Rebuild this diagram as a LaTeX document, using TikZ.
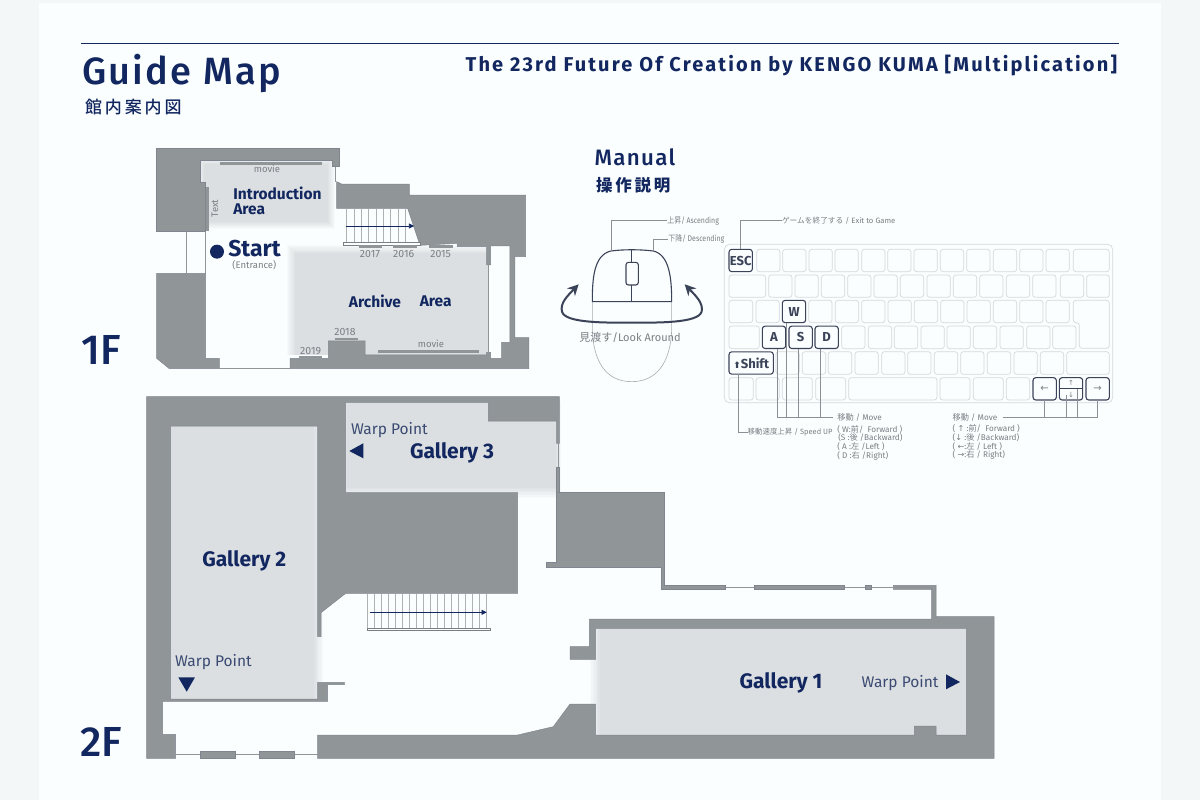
\documentclass[tikz,border=0pt]{standalone}
\usepackage{fontspec}
\usepackage{graphicx}
\usetikzlibrary{arrows.meta}
\setmainfont{Fira Sans}
\newfontfamily\cjk{Noto Sans CJK JP}
\newfontfamily\syms{DejaVu Sans}
\newfontfamily\mediumf{Fira Sans Medium}
\newfontfamily\spaced[LetterSpace=6]{Fira Sans Medium}
\newfontfamily\spacedtitle[LetterSpace=10.8]{Fira Sans}
\newfontfamily\spacedcjk[LetterSpace=17]{Noto Sans CJK JP Medium}
\definecolor{pagebg}{HTML}{F4F7F8}
\definecolor{panelc}{HTML}{FBFEFF}
\definecolor{wallc}{HTML}{909597}
\definecolor{walle}{HTML}{7F868F}
\definecolor{roomc}{HTML}{DCDFE1}
\definecolor{navyc}{HTML}{12275F}
\definecolor{slatec}{HTML}{3A4A72}
\definecolor{greyt}{HTML}{7A7F84}
\definecolor{keyg}{HTML}{D6D9DB}
\definecolor{keyd}{HTML}{3B4358}
\definecolor{connc}{HTML}{8B9096}
\newcommand\fs[1]{\fontsize{#1}{#1}\selectfont}
\newcommand\softroom[5]{\foreach \i in {1,...,8}{\pgfmathsetmacro\softp{\i*12.5}\fill[roomc!\softp!panelc] ({#1+#5*(\i-1)/8},{#2+#5*(\i-1)/8}) rectangle ({#3-#5*(\i-1)/8},{#4-#5*(\i-1)/8});}}
\tikzset{
 wall/.style={fill=wallc,draw=walle,line width=.5pt,line join=miter},
 thin wall/.style={draw=wallc,line width=1pt},
 txt/.style={inner sep=0pt,outer sep=0pt},
 roomname/.style={txt,font=\bfseries\fs{15.5},text=navyc},
 galname/.style={txt,font=\bfseries\fs{21},text=navyc},
 warp/.style={txt,font=\fs{15.5},text=slatec},
 yearlbl/.style={txt,font=\fs{10.5},text=greyt},
 movielbl/.style={txt,font=\fs{9.5},text=greyt},
 floorlbl/.style={txt,font=\mediumf\fs{42},text=navyc},
 tri/.style={fill=navyc,draw=none},
 stair/.style={draw=greyt!60,line width=.4pt},
 stairbar/.style={draw=greyt,fill=panelc,line width=.45pt},
 stairarrow/.style={draw=navyc,line width=.6pt,-{Triangle[length=5pt,width=5pt]}},
 greykey/.style={draw=keyg,line width=.7pt,rounded corners=2.7pt},
 darkkey/.style={draw=keyd,line width=1.1pt,rounded corners=2.7pt,inner sep=0pt,outer sep=0pt,text=keyd,font=\bfseries\fs{13},fill=panelc},
 conn/.style={draw=connc,line width=.55pt},
 smalltxt/.style={txt,font=\fs{8.2},text=greyt,anchor=west},
}
\begin{document}
\begin{tikzpicture}[x=1pt,y=-1pt]
\useasboundingbox (0,0) rectangle (1200,800);
\fill[pagebg] (0,0) rectangle (1200,800);
\fill[panelc] (39,3) rectangle (1161,800);
% header
\coordinate (ruleL) at (81,43.5);
\coordinate (ruleR) at (1119,43.5);
\draw[navyc,line width=1.2pt] (ruleL) -- (ruleR);
\node[txt,anchor=west,text=navyc] (guide) at (82,73) {\spaced\fs{38}Guide Map};
\node[txt,anchor=west,text=navyc] (guidejp) at (85,107.5) {\spacedcjk\fs{17}館内案内図};
\node[txt,anchor=east,text=navyc] (maintitle) at (1117,65.5) {\spacedtitle\bfseries\fs{20}The 23rd Future Of Creation by KENGO KUMA [Multiplication]};
\node[txt,anchor=west,text=navyc] (manual) at (594.5,157.5) {\spaced\fs{22.3}Manual};
\node[txt,anchor=west,text=navyc] (manualjp) at (596,185) {\spacedcjk\bfseries\fs{16.5}操作説明};
\node[floorlbl] (f1) at (101,350) {1F};
\node[floorlbl] (f2) at (101,742) {2F};

% ===== 1F plan, in crop units
\begin{scope}[shift={(140,140)},x=.33333pt,y=-.33333pt]
\begin{scope}
\clip (180,60) rectangle (600,280);
\softroom{172}{52}{585}{268}{24}
\end{scope}
\begin{scope}
\clip (430,305) rectangle (1044,645);
\softroom{440}{315}{1070}{670}{28}
\end{scope}
\fill[wall] (50,25)--(597,25)--(597,80)--(578,80)--(578,60)--(180,60)--(180,127)--(197,127)--(197,275)--(50,275)--cycle;
\fill[wall] (50,400)--(197,400)--(197,655)--(238,655)--(238,686)--(88,686)--(50,655)--cycle;
\fill[wall] (590,125)--(605,132)--(808,132)--(808,165)--(1157,165)--(1157,350)--(1125,350)--(1125,593)--(1167,593)--(1167,686)--(450,686)--(450,655)--(565,655)--(565,603)--(675,603)--(675,645)--(1040,645)--(1040,637)--(1052,637)--(1052,655)--(1085,655)--(1085,607)--(1110,607)--(1110,318)--(1052,318)--(1052,375)--(1040,375)--(1040,320)--(952,320)--(952,310)--(840,316)--(803,205)--(590,205)--cycle;
\fill[wallc] (199,140) rectangle (207,272);
\draw[thin wall,line width=.6pt] (140,275)--(140,400);
\draw[thin wall,line width=.6pt] (197,275)--(197,400);
\draw[thin wall,line width=.6pt] (238,685)--(450,685);
\draw[thin wall,line width=.6pt] (587,80)--(587,125);
\draw[thin wall,line width=.7pt] (1044,375)--(1044,637);
% 1F stairs
\foreach \sx in {620,642,...,800}{\draw[stair] (\sx,206)--(\sx,308);}
\draw[stairbar] (610,308) rectangle (840,316);
\coordinate (st1a) at (618,258);
\coordinate (st1b) at (822,258);
\draw[stairarrow] (st1a)--(st1b);
% display bars
\fill[wallc] (240,67) rectangle (546,76);
\fill[wallc] (657,316) rectangle (727,323);
\fill[wallc] (760,316) rectangle (830,323);
\fill[wallc] (868,316) rectangle (938,323);
\fill[wallc] (584,595) rectangle (653,601);
\fill[wallc] (477,648) rectangle (547,655);
\fill[wallc] (714,630) rectangle (1018,639);
\node[movielbl] (mv1) at (381,88) {movie};
\node[movielbl] (mv2) at (873,612) {movie};
\node[movielbl,rotate=90] (txtlbl) at (225,205) {Text};
\node[yearlbl] (y17) at (690,343) {2017};
\node[yearlbl] (y16) at (791,343) {2016};
\node[yearlbl] (y15) at (902,343) {2015};
\node[yearlbl] (y18) at (615,577) {2018};
\node[yearlbl] (y19) at (512,633) {2019};
\fill[navyc] (231,335) circle (21);
\node[txt,anchor=west,font=\bfseries\fs{23},text=navyc] (start) at (265,325) {Start};
\node[yearlbl,font=\fs{9.5}] (entr) at (343,376) {(Entrance)};
\node[roomname,anchor=west] (intro1) at (280,161) {Introduction};
\node[roomname,anchor=west] (intro2) at (280,209) {Area};
\node[roomname] (arch1) at (705,485) {Archive};
\node[roomname] (arch2) at (887,485) {Area};
\end{scope}

% ===== 2F plan, in picture pixels
\begin{scope}
\clip (170.7,426) rectangle (330,699);
\softroom{160}{416}{323}{709}{10}
\end{scope}
\begin{scope}
\clip (345.7,402.3) rectangle (560,500);
\softroom{336}{392}{566}{498}{12}
\end{scope}
\begin{scope}
\clip (585,628.3) rectangle (966.3,735);
\softroom{590}{619}{976}{745}{11}
\end{scope}
\fill[wall] (146.7,396.7)--(559.3,396.7)--(559.3,443.3)--(556.7,443.3)--(556.7,421)--(488.3,421)--(488.3,402.3)--(345.7,402.3)--(345.7,492.7)--(517.7,492.7)--(517.7,593.3)--(345.7,593.3)--(321,612.7)--(321,636.7)--(317.7,636.7)--(317.7,426)--(170.7,426)--(170.7,699)--(317.7,699)--(317.7,682.3)--(344.3,682.3)--(344.3,684.7)--(327.7,684.7)--(327.7,701.3)--(162.7,701.3)--(162.7,734.3)--(175.7,734.3)--(175.7,758.3)--(146.7,758.3)--cycle;
\fill[wall] (317.7,735)--(517.7,735)--(553.3,726.7)--(570,704)--(595.7,704)--(595.7,735)--(914.3,735)--(914.3,726)--(936,726)--(936,735)--(966.3,735)--(966.3,628.3)--(595.7,628.3)--(595.7,659.3)--(570,659.3)--(570,646.7)--(589.3,646.7)--(589.3,619)--(931.7,619)--(931.7,589.3)--(893.3,589.3)--(893.3,585.3)--(936,585.3)--(936,616.7)--(994,616.7)--(994,758.3)--(317.7,758.3)--cycle;
\fill[wall] (556.7,492.7)--(664.3,492.7)--(664.3,585.3)--(725.7,585.3)--(725.7,589.3)--(661,589.3)--(661,567.7)--(546,567.7)--(546,562.3)--(556.7,562.3)--cycle;
\fill[wall] (556.7,467.3) rectangle (559.3,492.7);
\draw[thin wall,line width=.8pt] (558,443)--(558,467.3);
\draw[thin wall,line width=.8pt] (175.7,754.7)--(318,754.7);
\fill[wall] (200,751.7) rectangle (235.3,758.3);
\fill[wall] (259,751.7) rectangle (294,758.3);
\draw[thin wall,line width=.8pt] (725.7,587.3)--(893.3,587.3);
\fill[wall] (754.3,585.3) rectangle (844.7,589.3);
\fill[wall] (865.7,585.3) rectangle (871.7,589.3);
% 2F stairs
\begin{scope}[shift={(140,390)},x=.33333pt,y=-.33333pt]
\foreach \sx in {683,704,...,1040}{\draw[stair] (\sx,612)--(\sx,716);}
\draw[stairbar] (683,716) rectangle (1052,722);
\coordinate (st2a) at (690,667);
\coordinate (st2b) at (1040,667);
\draw[stairarrow] (st2a)--(st2b);
\end{scope}
\node[warp,anchor=west] (wp3) at (351,430) {Warp Point};
\fill[tri] (349.3,451)--(363.3,443.3)--(363.3,458.3)--cycle;
\node[galname] (g3) at (452,453) {Gallery 3};
\node[galname] (g2) at (244.3,560.5) {Gallery 2};
\node[warp,anchor=west] (wp2) at (175,662.5) {Warp Point};
\fill[tri] (178.3,677.3)--(195,677.3)--(186.7,691.7)--cycle;
\node[galname] (g1) at (781,683) {Gallery 1};
\node[warp,anchor=west] (wp1) at (861.7,683) {Warp Point};
\fill[tri] (946,674.3)--(960,682)--(946,689.3)--cycle;

% ===== mouse, in crop units
\begin{scope}[shift={(550,140)},x=.33333pt,y=-.33333pt]
\draw[draw=connc!75,line width=.6pt] (127,485)--(127,570) .. controls (130,660) and (165,725) .. (245,725) .. controls (325,725) and (362,660) .. (365,570) -- (365,485);
\draw[draw=keyd,line width=1.1pt] (127,485) .. controls (127,420) and (130,345) .. (183,333) .. controls (220,328) and (270,328) .. (310,333) .. controls (360,345) and (365,420) .. (365,485) -- cycle;
\draw[draw=keyd,line width=1.1pt] (245,330)--(245,485);
\draw[draw=keyd,line width=1.1pt,fill=panelc,rounded corners=2.5pt] (228,367) rectangle (265,435);
\coordinate (mbl) at (183,333);
\coordinate (mbr) at (310,333);
\coordinate (lookL) at (86,433);
\coordinate (lookR) at (404,433);
\draw[draw=keyd,line width=2pt,{Stealth[length=11pt,width=11pt]}-{Stealth[length=11pt,width=11pt]}] (lookL) .. controls (50,470) and (30,490) .. (36,515) .. controls (45,550) and (170,548) .. (245,548) .. controls (320,548) and (445,550) .. (455,515) .. controls (460,490) and (440,470) .. (lookR);
\node[smalltxt] (asc) at (352,242) {\scalebox{.85}[1]{{\cjk 上昇}/ Ascending}};
\node[smalltxt] (desc) at (355,297) {\scalebox{.85}[1]{{\cjk 下降}/ Descending}};
\draw[conn] (mbl) |- (asc.west) ;
\draw[conn] (mbr) |- (desc.west);
\node[txt,text=greyt,font=\fs{11}] (look) at (240,593) {{\cjk 見渡す}/Look Around};
\end{scope}

% ===== keyboard, in crop units
\begin{scope}[shift={(720,230)},x=.33333pt,y=-.33333pt]
\draw[greykey,rounded corners=5pt] (13,43) rectangle (1178,518);
\foreach \a/\b in {110/180,188/258,267/337,345/415,425/495,503/573,582/652,661/731,740/810,820/890,899/969,978/1048,1060/1168}{\draw[greykey] (\a,58) rectangle (\b,125);}
\foreach \a/\b in {27/137,146/216,225/295,304/374,383/453,462/532,541/611,621/691,700/770,779/849,859/929,938/1008,1021/1091,1100/1168}{\draw[greykey] (\a,135) rectangle (\b,202);}
\foreach \a/\b in {27/98,108/178,266/336,346/416,425/495,504/574,583/653,662/732,741/811,820/890,899/969,978/1048}{\draw[greykey] (\a,211) rectangle (\b,278);}
\draw[greykey] (1060,211)--(1168,211)--(1168,355)--(1078,355)--(1078,278)--(1060,278)--cycle;
\foreach \a/\b in {27/118,365/435,445/515,523/593,603/673,681/751,760/830,840/910,920/990,998/1068}{\draw[greykey] (\a,288) rectangle (\b,356);}
\foreach \a/\b in {168/238,247/317,325/395,405/475,485/555,563/633,643/713,722/792,802/872,882/952,961/1031,1040/1168}{\draw[greykey] (\a,365) rectangle (\b,433);}
\foreach \a/\b in {27/100,108/178,187/277,287/377,386/651,660/750,760/850,859/929}{\draw[greykey] (\a,443) rectangle (\b,510);}
\tikzset{keysize/.style={minimum width=23.3pt,minimum height=22.3pt}}
\node[darkkey,keysize] (esc) at (62,91.5) {ESC};
\node[darkkey,keysize] (w) at (222,244.5) {W};
\node[darkkey,keysize] (a) at (162,322) {A};
\node[darkkey,keysize] (s) at (242,322) {S};
\node[darkkey,keysize] (d) at (320,322) {D};
\node[darkkey,minimum width=44.3pt,minimum height=22.3pt] (shift) at (93.5,399) {{\syms\fs{9}⬆}Shift};
\node[darkkey,keysize,font=\syms\fs{10},text=greyt] (left) at (974,476.5) {←};
\node[darkkey,keysize] (ud) at (1053,476.5) {};
\node[darkkey,keysize,font=\syms\fs{10},text=greyt] (right) at (1133,476.5) {→};
\draw[draw=keyd,line width=1.1pt] (ud.west)--(ud.east);
\node[txt,font=\syms\fs{7},text=greyt] (upg) at (1053,458) {↑};
\node[txt,font=\syms\fs{7},text=greyt] (dng) at (1053,494) {↓};
% labels
\node[smalltxt,font=\fs{7.7}] (exitl) at (186,-29.5) {{\cjk ゲームを終了する} / Exit to Game};
\node[smalltxt] (movel) at (352,563) {{\cjk 移動} / Move};
\node[smalltxt] (mover) at (698,563) {{\cjk 移動} / Move};
\node[smalltxt,font=\fs{7.6}] (speedl) at (83,607) {\scalebox{.98}[1]{{\cjk 移動速度上昇} / Speed UP}};
\node[smalltxt] (l1) at (352,598) {( W:{\cjk 前}/\ \ Forward )};
\node[smalltxt] (l2) at (355,624) {(S :{\cjk 後} /Backward)};
\node[smalltxt] (l3) at (352,650) {( A :{\cjk 左} /Left )};
\node[smalltxt] (l4) at (352,677) {( D :{\cjk 右} /Right)};
\node[smalltxt] (r1) at (698,597) {( {\syms ↑} :{\cjk 前}/\ \ Forward )};
\node[smalltxt] (r2) at (698,624) {({\syms ↓} :{\cjk 後} /Backward)};
\node[smalltxt] (r3) at (698,650) {( {\syms ←}:{\cjk 左} / Left )};
\node[smalltxt] (r4) at (698,675) {( {\syms →}:{\cjk 右} / Right)};
% connectors
\draw[conn] (esc.north) |- (exitl.west);
\coordinate (aout) at (173,356);
\coordinate (wout) at (200,278);
\coordinate (sout) at (235,356);
\coordinate (dout) at (300,356);
\draw[conn] (aout) |- ([xshift=-4pt]movel.west);
\draw[conn] (wout) -- (wout |- movel.west);
\draw[conn] (sout) -- (sout |- movel.west);
\draw[conn] (dout) -- (dout |- movel.west);
\coordinate (sh) at (55,433);
\draw[conn] (sh) |- (speedl.west);
\coordinate (udl) at (1040,494);
\coordinate (udr) at (1072,476);
\draw[conn] (left.south) |- ([xshift=6pt]mover.east);
\draw[conn] (right.south) |- ([xshift=6pt]mover.east);
\draw[conn] (udl) -- (udl |- mover.east);
\draw[conn] (udr) -- (udr |- mover.east);
\end{scope}
\end{tikzpicture}
\end{document}
